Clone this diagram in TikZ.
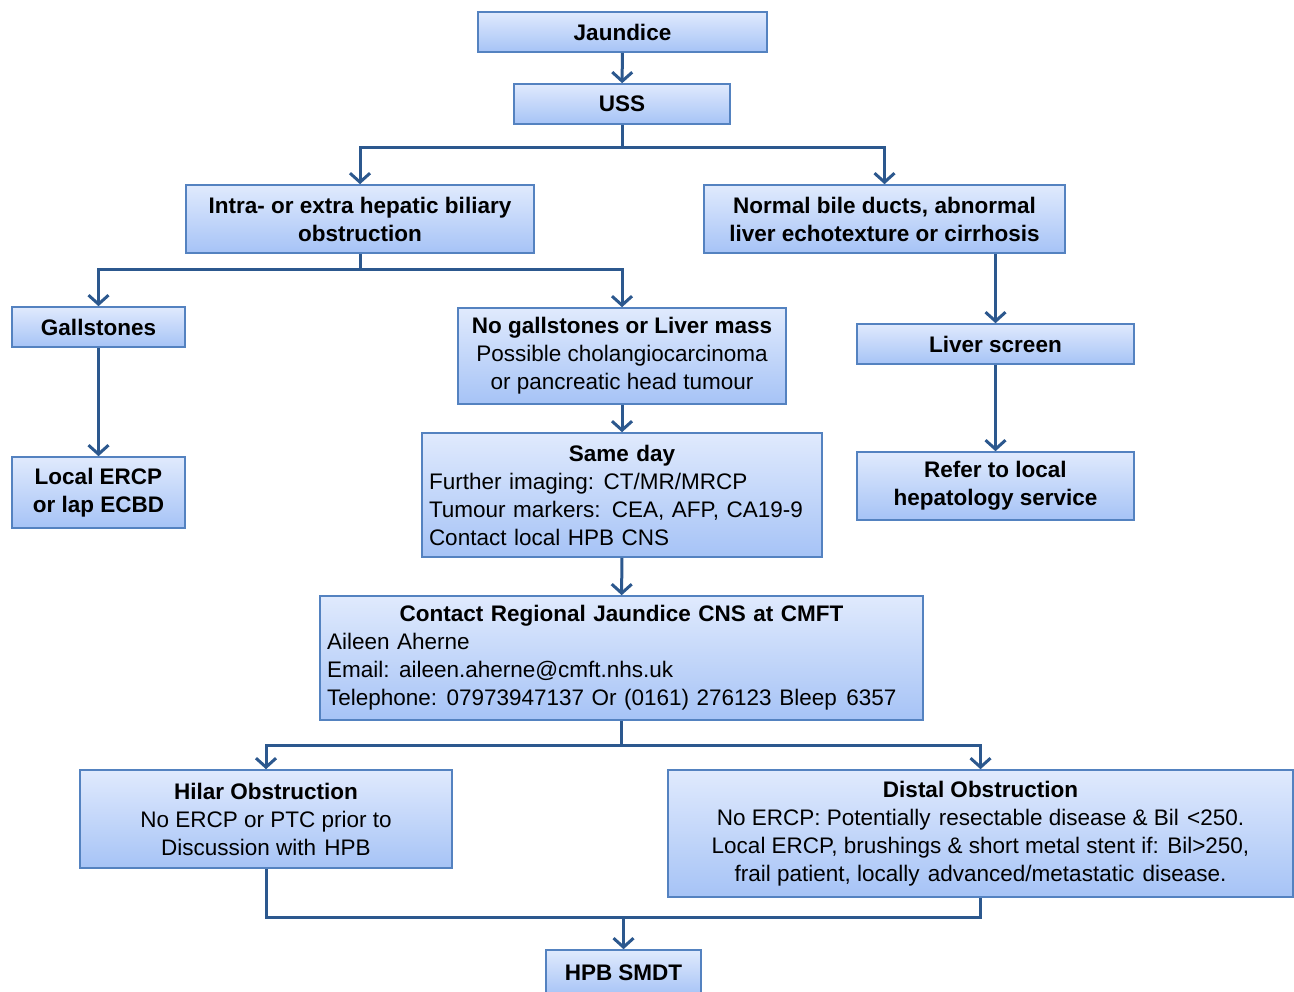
\documentclass[tikz,border=0pt]{standalone}
\usepackage{fontspec}
\setmainfont{Liberation Sans}
\usetikzlibrary{arrows.meta}
\definecolor{boxtop}{RGB}{224,234,253}
\definecolor{boxbot}{RGB}{166,195,246}
\definecolor{boxborder}{RGB}{84,130,192}
\definecolor{arrowcol}{RGB}{44,88,142}
\newcommand{\dsp}{\ \hspace{2pt}}
\begin{document}
\begin{tikzpicture}[x=1pt,y=-1pt,
  box/.style={draw=boxborder, line width=1.6pt, top color=boxtop, bottom color=boxbot,
    inner sep=0pt, align=center, font=\fontsize{22.5}{28}\selectfont, anchor=center},
  conn/.style={draw=arrowcol, line width=3pt},
  arr/.style={conn, -{Straight Barb[length=9pt,width=20pt,line width=3pt]}}
]
\useasboundingbox (0,0) rectangle (1294,992);

\node[box, minimum width=289pt, minimum height=40pt] (jaundice) at (622.5,32) {\textbf{Jaundice}};
\node[box, minimum width=216pt, minimum height=40pt] (uss) at (622,104) {\textbf{USS}};
\node[box, minimum width=348pt, minimum height=68pt] (intra) at (360,219) {\textbf{Intra- or extra hepatic biliary}\\\textbf{obstruction}};
\node[box, minimum width=361pt, minimum height=68pt] (normal) at (884.5,219) {\textbf{Normal bile ducts, abnormal}\\\textbf{liver echotexture or cirrhosis}};
\node[box, minimum width=173pt, minimum height=40pt] (gall) at (98.5,327) {\textbf{Gallstones}};
\node[box, minimum width=328pt, minimum height=96pt] (nogall) at (622,356) {\textbf{No gallstones or Liver mass}\\Possible cholangiocarcinoma\\or pancreatic head tumour};
\node[box, minimum width=277pt, minimum height=40pt] (liver) at (995.5,344) {\textbf{Liver screen}};
\node[box, minimum width=173pt, minimum height=71pt] (local) at (98.5,492.5) {\textbf{Local ERCP}\\\textbf{or lap ECBD}};
\node[box, minimum width=400pt, minimum height=124pt, text width=386pt, align=left] (same) at (622,495) {\makebox[\linewidth]{\textbf{Same day}}\\Further imaging:\dsp CT/MR/MRCP\\Tumour markers: CEA, AFP, CA19-9\\Contact local HPB CNS};
\node[box, minimum width=277pt, minimum height=68pt] (refer) at (995.5,486) {\textbf{Refer to local}\\\textbf{hepatology service}};
\node[box, minimum width=603pt, minimum height=124pt, text width=589pt, align=left] (contact) at (621.5,658) {\makebox[\linewidth]{\textbf{Contact Regional Jaundice CNS at CMFT}}\\Aileen Aherne\\Email:\dsp aileen.aherne@cmft.nhs.uk\\\mbox{Telephone:\dsp 07973947137 Or (0161) 276123 Bleep\dsp 6357}};
\node[box, minimum width=372pt, minimum height=98pt] (hilar) at (266,819) {\textbf{Hilar Obstruction}\\No ERCP or PTC prior to\\Discussion with\dsp HPB};
\node[box, minimum width=625pt, minimum height=127pt] (distal) at (980.5,833.5) {\textbf{Distal Obstruction}\\No ERCP: Potentially\dsp resectable disease \& Bil\dsp <250.\\Local ERCP, brushings \& short metal stent if: Bil>250,\\frail patient, locally\dsp advanced/metastatic\dsp disease.};
\node[box, minimum width=155pt, minimum height=46pt] (hpb) at (623.5,973) {\textbf{HPB SMDT}};

\draw[arr] (jaundice) -- (uss);
\draw[conn] (uss.south) -- ++(0,23) coordinate (s1);
\draw[arr] (s1) -| (intra.north);
\draw[arr] (s1) -| (normal.north);
\draw[conn] (intra.south) -- ++(0,16) coordinate (s2);
\draw[arr] (s2) -| (gall.north);
\draw[arr] (s2) -| (nogall.north);
\draw[arr] (liver.north |- normal.south) -- (liver.north);
\draw[arr] (liver) -- (refer);
\draw[arr] (gall) -- (local);
\draw[arr] (nogall) -- (same);
\draw[arr] (same) -- (contact);
\draw[conn] (contact.south) -- ++(0,25) coordinate (s3);
\draw[arr] (s3) -| (hilar.north);
\draw[arr] (s3) -| (distal.north);
\draw[conn] (hilar.south) -- ++(0,49) coordinate (s4) -| (distal.south);
\draw[arr] (hpb.north |- s4) -- (hpb.north);
\end{tikzpicture}
\end{document}
